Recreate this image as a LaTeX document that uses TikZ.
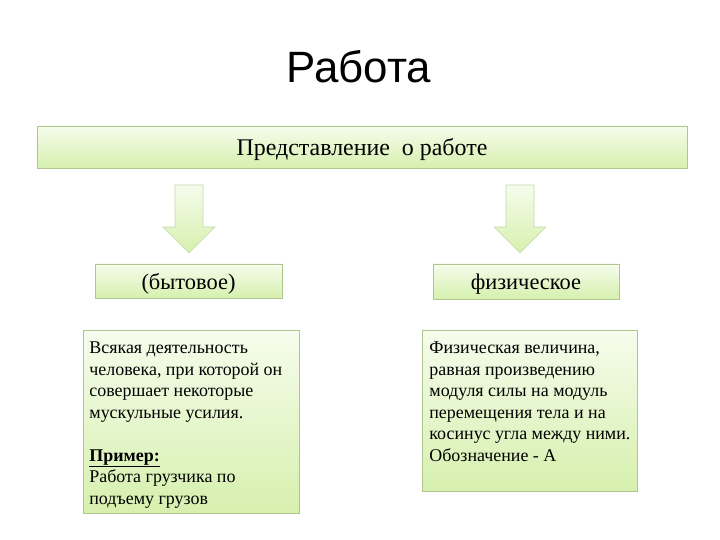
\documentclass[tikz,border=0pt]{standalone}
\usepackage{fontspec}
\setmainfont{Liberation Serif}
\newfontfamily\titlefont{Liberation Sans}
\usetikzlibrary{positioning}

\definecolor{boxline}{RGB}{176,198,146}
\definecolor{boxtop}{RGB}{246,252,236}
\definecolor{boxbottom}{RGB}{214,240,174}
\definecolor{arrline}{RGB}{196,216,168}

\begin{document}
\begin{tikzpicture}
		[
			x=1bp, y=-1bp,
			align=center,
			box/.style={draw=boxline, line width=0.8pt, top color=boxtop, bottom color=boxbottom, inner sep=0pt},
			head/.style={box, text depth=0pt, font=\fontsize{22.5}{26}\selectfont},
			descr/.style={box, anchor=north west, inner xsep=6bp, inner ysep=11.5bp, align=left, font=\fontsize{18}{21.6}\selectfont},
			blockarrow/.style={draw=arrline, line width=0.6pt, top color=boxtop, bottom color=boxbottom, line join=miter}
		]

		\useasboundingbox (0,0) rectangle (720,540);

		% title
		\node[anchor=base, font=\titlefont\fontsize{44}{50}\selectfont] (title) at ( 359, 83 ) {Работа};

		% boxes
		\node[head, minimum width=650bp, minimum height=42bp, font=\fontsize{24}{28}\selectfont] (idea) at ( 362, 147 ) {Представление \ о работе};
		\node[head, minimum width=187bp, minimum height=34bp] (house) at ( 188.5, 281 ) {(бытовое)};
		\node[head, minimum width=186bp, minimum height=35bp] (phys) at ( 526, 281.5 ) {физическое};

		% descriptions
		\node[descr] (houseText) at ( 83, 330 ) {\parbox[t][160bp][t]{204bp}{\raggedright
			Всякая деятельность\\
			человека, при которой он\\
			совершает некоторые\\
			мускульные усилия.\\
			\mbox{}\\
			\textbf{\underline{Пример:}}\\
			Работа грузчика по\\
			подъему грузов}};
		\node[descr, inner xsep=7bp] (physText) at ( 422, 330 ) {\parbox[t][138bp][t]{201bp}{\raggedright
			Физическая величина,\\
			равная произведению\\
			модуля силы на модуль\\
			перемещения тела и на\\
			косинус угла между ними.\\
			Обозначение - А}};

		% block arrows
		\coordinate (arrL) at ( 189, 185 );
		\coordinate (arrR) at ( 520, 185 );
		\foreach \a in {arrL,arrR}
		\draw[blockarrow] (\a) ++(-14,0) -- ++(28,0) -- ++(0,42) -- ++(12,0) -- ++(-26,26) -- ++(-26,-26) -- ++(12,0) -- cycle;

	\end{tikzpicture}
\end{document}
